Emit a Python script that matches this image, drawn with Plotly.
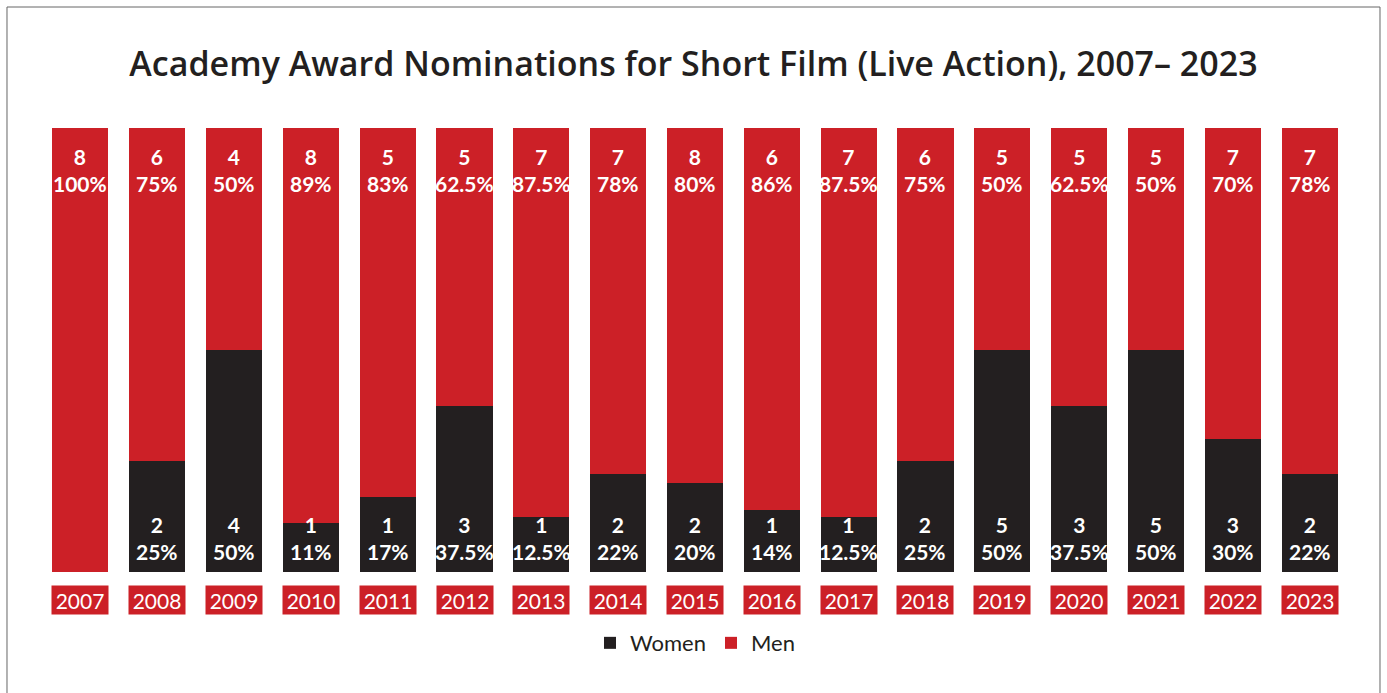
import plotly.graph_objects as go

years = [str(y) for y in range(2007, 2024)]
women_count = [0, 2, 4, 1, 1, 3, 1, 2, 2, 1, 1, 2, 5, 3, 5, 3, 2]
men_count = [8, 6, 4, 8, 5, 5, 7, 7, 8, 6, 7, 6, 5, 5, 5, 7, 7]
women_share = [0, 25, 50, 11, 17, 37.5, 12.5, 22, 20, 14, 12.5, 25, 50, 37.5, 50, 30, 22]
men_share = [100, 75, 50, 89, 83, 62.5, 87.5, 78, 80, 86, 87.5, 75, 50, 62.5, 50, 70, 78]
women_pct = ["0%", "25%", "50%", "11%", "17%", "37.5%", "12.5%", "22%", "20%", "14%",
             "12.5%", "25%", "50%", "37.5%", "50%", "30%", "22%"]
men_pct = ["100%", "75%", "50%", "89%", "83%", "62.5%", "87.5%", "78%", "80%", "86%",
           "87.5%", "75%", "50%", "62.5%", "50%", "70%", "78%"]

RED = "#cc2027"
DARK = "#231f20"
FONT = "Lato"

fig = go.Figure()
fig.add_trace(go.Bar(x=years, y=women_share, name="Women", marker=dict(color=DARK, line=dict(width=0)),
                     hoverinfo="skip"))
fig.add_trace(go.Bar(x=years, y=men_share, name="Men", marker=dict(color=RED, line=dict(width=0)),
                     hoverinfo="skip"))

annotations = []
for i, yr in enumerate(years):
    annotations.append(dict(x=i, y=100, xref="x", yref="y", yanchor="top", yshift=-14,
                            text=f"{men_count[i]}<br>{men_pct[i]}", showarrow=False,
                            font=dict(family=FONT, size=21, color="white", weight=700)))
    if women_count[i] > 0:
        annotations.append(dict(x=i, y=0, xref="x", yref="y", yanchor="bottom", yshift=6,
                                text=f"{women_count[i]}<br>{women_pct[i]}", showarrow=False,
                                font=dict(family=FONT, size=21, color="white", weight=700)))
    annotations.append(dict(x=i, y=0, xref="x", yref="paper", yanchor="top", yshift=-13,
                            text=yr, showarrow=False, width=56, height=28, bgcolor=RED,
                            borderpad=0, align="center", valign="middle",
                            font=dict(family=FONT, size=21, color="white")))

fig.update_layout(
    width=1387, height=693,
    barmode="stack", bargap=0.27,
    margin=dict(l=42, r=39, t=128, b=121),
    paper_bgcolor="white", plot_bgcolor="white",
    title=dict(text="Academy Award Nominations for Short Film (Live Action), 2007– 2023",
               x=0.5, xanchor="center", y=1 - 64 / 693, yanchor="middle", yref="container",
               font=dict(family="Open Sans", size=34, color=DARK, weight=600)),
    xaxis=dict(type="category", showticklabels=False, showgrid=False, zeroline=False,
               showline=False, range=[-0.5, 16.5]),
    yaxis=dict(range=[0, 100], visible=False),
    showlegend=True,
    legend=dict(orientation="h", x=0.5, xanchor="center", y=-0.16, yanchor="middle",
                font=dict(family=FONT, size=22, color=DARK), traceorder="normal"),
    annotations=annotations,
    shapes=[dict(type="rect", xref="paper", yref="paper", x0=-0.0268, x1=1.0245,
                 y0=-0.3, y1=1.2725, line=dict(color="#666666", width=1), layer="below")],
)

fig.write_html("out.html", config={"displayModeBar": False},
               post_script="document.body.style.margin='0';")
